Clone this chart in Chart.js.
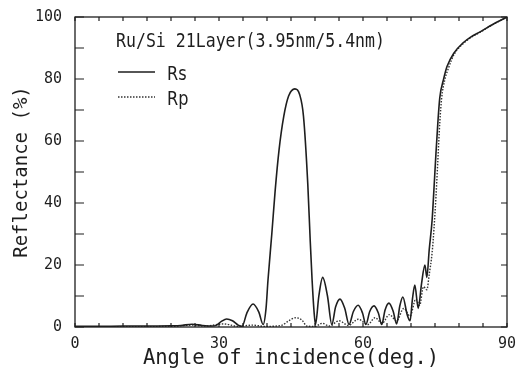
<!DOCTYPE html>
<html>
<head>
<meta charset="utf-8">
<script src="https://cdn.jsdelivr.net/npm/chart.js@4/dist/chart.umd.min.js"></script>
<style>
  html, body { margin: 0; padding: 0; background: #fff; }
  canvas { display: block; }
</style>
</head>
<body>
<canvas id="chart" width="524" height="371"></canvas>
<script>
// angle of incidence (deg.) and reflectance (%)
const rsAngle = [0, 5, 10, 15, 20, 22, 24.4, 26.5, 28.5, 29.5, 30.5, 31.6, 32.8, 34.0, 34.8,
  35.8, 37.1, 38.3, 39.2, 39.8, 40.2, 41.0, 41.7, 42.5, 43.5, 44.5, 45.8, 46.8, 47.6, 48.5,
  49.0, 49.4, 49.8, 50.1, 50.8, 51.6, 52.6, 53.5, 54.3, 55.2, 56.2, 57.1, 58.0, 59.0, 59.9,
  60.6, 61.4, 62.3, 63.2, 63.9, 64.6, 65.4, 66.3, 67.0, 67.7, 68.3, 69.2, 69.8, 70.3, 70.8,
  71.5, 72.2, 72.9, 73.3, 73.8, 74.4, 74.8, 75.2, 75.6, 76.0, 76.8, 77.5, 79, 80.8, 82.5,
  84.4, 87, 90]
const rsValue = [0.2, 0.2, 0.3, 0.3, 0.4, 0.5, 0.9, 0.5, 0.3, 0.6, 1.8, 2.6, 2.0, 0.6, 0.2,
  4.5, 7.4, 4.8, 0.8, 6, 15, 30, 44, 57, 68, 74.5, 76.8, 75, 68, 46,
  28, 15, 5, 0.8, 10, 16, 10, 0.8, 6.5, 9, 6, 0.8, 5, 7, 4.5,
  0.8, 5, 6.8, 4.5, 0.8, 5.5, 7.7, 5, 1.0, 7, 9.7, 4, 2, 9, 13.5,
  6, 14, 20, 16, 25, 34.5, 45, 56, 66, 74, 80, 84, 88.5, 91.6, 93.6,
  95.2, 97.6, 100]

const rpAngle = [0, 10, 20, 24.4, 27, 31, 34, 37, 39.5, 43, 44.5, 46, 47.3, 48.3, 50,
  51.5, 53, 55, 57, 59, 61, 62.5, 64, 65.5, 67, 68.5, 69.8, 71, 71.8, 72.6,
  73.3, 73.8, 74.4, 74.8, 75.2, 75.6, 76.0, 76.4, 77.0, 77.8, 79, 80.8, 82.5, 84.4, 87, 90]
const rpValue = [0.1, 0.1, 0.2, 0.6, 0.3, 1.0, 0.2, 0.6, 0.2, 0.5, 2, 3, 2.2, 0.3, 0.2,
  1.2, 0.3, 2, 0.5, 2.5, 0.8, 3, 1.2, 4, 2, 6, 3.5, 9, 7, 13,
  12, 17, 24, 32, 42, 54, 66, 74, 79.5, 83.5, 88, 91.3, 93.4, 95.1, 97.5, 100]

const xTicks = [0, 5, 10, 15, 20, 25, 30, 35, 40, 45, 50, 55, 60, 65, 70, 75, 80, 85, 90]
const yTicks = [0, 10, 20, 30, 40, 50, 60, 70, 80, 90, 100]

const titleText = 'Ru/Si 21Layer(3.95nm/5.4nm)'
const ink = '#1e1e1e'

const toPoints = (xs, ys) => xs.map((x, i) => ({ x: x, y: ys[i] }))

// frame, inward ticks, inner title and legend
const framePlugin = {
  id: 'frame',
  afterDraw(chart) {
    const ctx = chart.ctx
    const a = chart.chartArea
    const xs = chart.scales.x, ys = chart.scales.y
    ctx.save()
    ctx.strokeStyle = ink
    ctx.lineWidth = 1.3
    ctx.strokeRect(a.left, a.top, a.right - a.left, a.bottom - a.top)
    ctx.lineWidth = 1.2
    ctx.beginPath()
    xTicks.forEach(v => {
      const px = xs.getPixelForValue(v)
      ctx.moveTo(px, a.bottom); ctx.lineTo(px, a.bottom - 4)
      ctx.moveTo(px, a.top); ctx.lineTo(px, a.top + 4)
    })
    yTicks.forEach(v => {
      const py = ys.getPixelForValue(v)
      ctx.moveTo(a.left, py); ctx.lineTo(a.left + 9, py)
      ctx.moveTo(a.right, py); ctx.lineTo(a.right - 6, py)
    })
    ctx.stroke()

    // condensed plotter-like title
    ctx.fillStyle = ink
    ctx.textBaseline = 'alphabetic'
    ctx.font = '20px "DejaVu Sans Mono"'
    const w = ctx.measureText(titleText).width
    ctx.save()
    ctx.translate(a.left + 41, 47)
    ctx.scale(269 / w, 1)
    ctx.fillText(titleText, 0, 0)
    ctx.restore()

    // legend
    const sets = chart.data.datasets
    sets.forEach((ds, i) => {
      const y = 72 + i * 25
      ctx.save()
      ctx.strokeStyle = ds.borderColor
      ctx.lineWidth = ds.borderWidth
      ctx.setLineDash(ds.borderDash || [])
      ctx.beginPath()
      ctx.moveTo(a.left + 43, y)
      ctx.lineTo(a.left + 80, y)
      ctx.stroke()
      ctx.restore()
      ctx.font = '19px "DejaVu Sans"'
      ctx.save()
      ctx.translate(a.left + 92, y + 8)
      ctx.scale(0.85, 1)
      ctx.fillText(ds.label, 0, 0)
      ctx.restore()
    })
    ctx.restore()
  }
}

new Chart(document.getElementById('chart'), {
  type: 'line',
  data: {
    datasets: [
      {
        label: 'Rs',
        data: toPoints(rsAngle, rsValue),
        borderColor: ink,
        borderWidth: 1.6,
        pointRadius: 0,
        cubicInterpolationMode: 'monotone'
      },
      {
        label: 'Rp',
        data: toPoints(rpAngle, rpValue),
        borderColor: '#333',
        borderWidth: 1.4,
        borderDash: [1.5, 1.5],
        pointRadius: 0,
        cubicInterpolationMode: 'monotone'
      }
    ]
  },
  options: {
    responsive: false,
    devicePixelRatio: 1,
    animation: false,
    layout: { padding: { top: 17, right: 17, left: 0, bottom: 0 } },
    plugins: { legend: { display: false }, tooltip: { enabled: false } },
    scales: {
      x: {
        type: 'linear',
        min: 0, max: 90,
        afterFit: s => { s.height = 44 },
        grid: { display: false },
        border: { display: false },
        ticks: {
          stepSize: 30,
          padding: 0,
          color: ink,
          font: { family: 'DejaVu Sans Mono', size: 15 }
        },
        title: {
          display: true,
          text: 'Angle of incidence(deg.)',
          color: ink,
          padding: { top: 0, bottom: 0 },
          font: { family: 'DejaVu Sans Mono', size: 20.5 }
        }
      },
      y: {
        min: 0, max: 100,
        afterFit: s => { s.width = 75 },
        grid: { display: false },
        border: { display: false },
        ticks: {
          stepSize: 20,
          padding: 5,
          color: ink,
          font: { family: 'DejaVu Sans Mono', size: 15 }
        },
        title: {
          display: true,
          text: 'Reflectance (%)',
          color: ink,
          padding: { top: 11, bottom: 0 },
          font: { family: 'DejaVu Sans Mono', size: 19 }
        }
      }
    }
  },
  plugins: [framePlugin]
})
</script>
</body>
</html>
